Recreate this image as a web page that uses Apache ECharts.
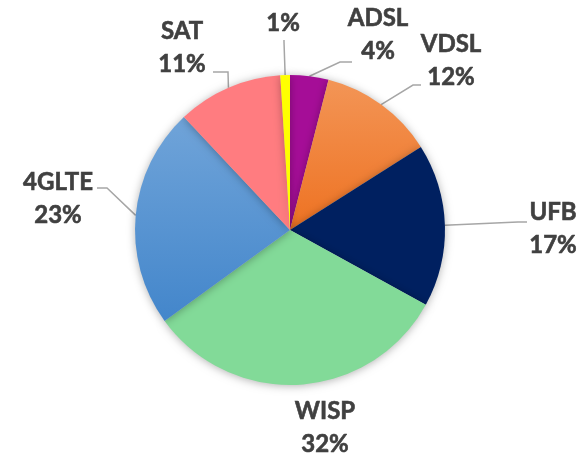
<!DOCTYPE html>
<html>
<head>
<meta charset="utf-8">
<script src="https://cdn.jsdelivr.net/npm/echarts@6/dist/echarts.min.js"></script>
<style>
  html, body { margin: 0; padding: 0; background: #fff; }
  #chart { width: 582px; height: 463px; }
</style>
</head>
<body>
<div id="chart"></div>
<script>
// connection types, clockwise from 12 o'clock
let names = ["ADSL", "VDSL", "UFB", "WISP", "4GLTE", "SAT", ""];
let shares = [4, 12, 17, 32, 23, 11, 1];

// slice fills (gradients for VDSL and 4GLTE like the original)
const grad = (a, b) => new echarts.graphic.LinearGradient(0, 0, 0, 1, [
  { offset: 0, color: a },
  { offset: 1, color: b },
]);
let colors = [
  "#A50D97",
  grad("#F39556", "#EE7222"),
  "#002060",
  "#82DA98",
  grad("#70A4D9", "#4386CB"),
  "#FF7C80",
  "#FFFF00",
];

// where each label sits [cx, cy] and its leader elbow / end (null = no leader)
let labelPos = [
  [378, 35], [451, 61], [553, 229], [325, 428], [58, 199], [182, 48], [283, 23],
];
let leader = [
  [[340, 62], [352, 62]],
  [[413, 85], [421, 85]],
  [[518, 222], [527, 222]],
  null,
  [[107, 188], [97, 188]],
  [[228, 72], [213, 72]],
  [[284, 42], [284, 40]],
];

const myChart = echarts.init(document.getElementById("chart"));

let data = names.map((n, i) => ({
  name: n,
  value: shares[i],
  itemStyle: { color: colors[i] },
  labelLine: { show: leader[i] !== null },
}));

let option = {
  animation: false,
  series: [
    {
      type: "pie",
      center: [290, 230],
      radius: 155,
      startAngle: 90,
      clockwise: true,
      data,
      itemStyle: {
        borderWidth: 0,
        shadowBlur: 8,
        shadowOffsetX: 0,
        shadowOffsetY: 1,
        shadowColor: "rgba(0,0,0,0.3)",
      },
      label: {
        show: true,
        position: "outside",
        formatter: (p) => (p.name ? p.name + "\n" : "") + p.value + "%",
        fontFamily: "Lato",
        fontWeight: "bold",
        fontSize: 24,
        lineHeight: 33,
        color: "#404040",
        textBorderColor: "#404040",
        textBorderWidth: 0.6,
        align: "center",
      },
      labelLine: {
        show: true,
        lineStyle: { color: "#A6A6A6", width: 1.5 },
      },
      labelLayout: (params) => {
        let i = params.dataIndex;
        let out = {
          x: labelPos[i][0],
          y: labelPos[i][1],
          align: "center",
          verticalAlign: "middle",
        };
        if (leader[i] && params.labelLinePoints) {
          out.labelLinePoints = [
            params.labelLinePoints[0],
            leader[i][0],
            leader[i][1],
          ];
        }
        return out;
      },
    },
  ],
};

option && myChart.setOption(option);
</script>
</body>
</html>
